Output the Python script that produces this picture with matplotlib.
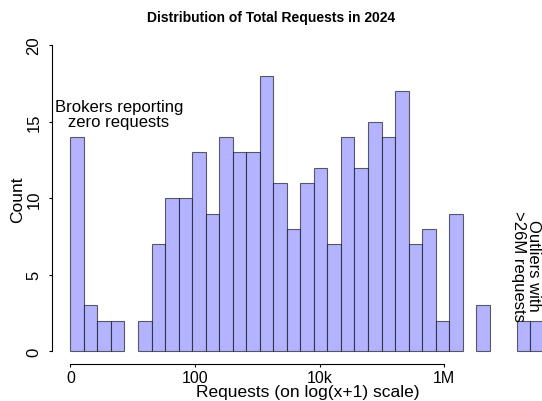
import numpy as np
import matplotlib
matplotlib.use("Agg")
import matplotlib.pyplot as plt

plt.rcParams['font.family'] = ['Liberation Sans', 'DejaVu Sans']

# histogram of log(x+1) requests, bins of 0.5 (natural log)
bin_width = 0.5
counts = [14, 3, 2, 2, 0,
          2, 7, 10, 10, 13, 9, 14, 13, 13, 18, 11, 8,
          11, 12, 7, 14, 12, 15, 14, 17, 7, 8, 2, 9,
          0, 3, 0, 0, 2, 2]
tick_values = [0, 100, 10000, 1000000]
tick_labels = ["0", "100", "10k", "1M"]
y_ticks = [0, 5, 10, 15, 20]

counts = np.array(counts)
edges = np.arange(len(counts)) * bin_width
keep = counts > 0  # empty bins draw nothing

fig = plt.figure(figsize=(5.42, 4.02), dpi=100)
ax = fig.add_axes([0.0954, 0.0928, 0.943, 0.823])

ax.bar(edges[keep], counts[keep], width=bin_width, align='edge',
       color='#b3b3ff', edgecolor=(0, 0, 0, 0.6), linewidth=0.8)

ax.set_xlim(-0.69, 18.2)
ax.set_ylim(-0.8, 20.8)

for s in ['top', 'right']:
    ax.spines[s].set_visible(False)
ax.spines['left'].set_bounds(0, 20)
ax.spines['bottom'].set_bounds(0, np.log(tick_values[-1] + 1))

ax.set_xticks(np.log(np.array(tick_values) + 1))
ax.set_xticklabels(tick_labels, fontsize=11.5)
ax.set_yticks(y_ticks)
ax.set_yticklabels([str(v) for v in y_ticks], fontsize=12, rotation=90, va='center')
ax.tick_params(length=2.5, width=0.8, pad=5)
ax.tick_params(axis='x', pad=2)

ax.set_xlabel("Requests (on log(x+1) scale)", fontsize=12.5, labelpad=-1)
ax.set_ylabel("Count", fontsize=12.5, labelpad=1)
fig.text(0.5, 0.956, "Distribution of Total Requests in 2024",
         ha='center', va='center', fontsize=10, fontweight='bold')

ax.text(1.79, 15.5, "Brokers reporting\nzero requests", ha='center', va='center',
        fontsize=12, linespacing=1.0)
ax.text(16.85, 5.64, "Outliers with\n>26M requests", ha='center', va='center',
        fontsize=12, rotation=270, linespacing=1.0)

fig.savefig("out.png", dpi=100)
